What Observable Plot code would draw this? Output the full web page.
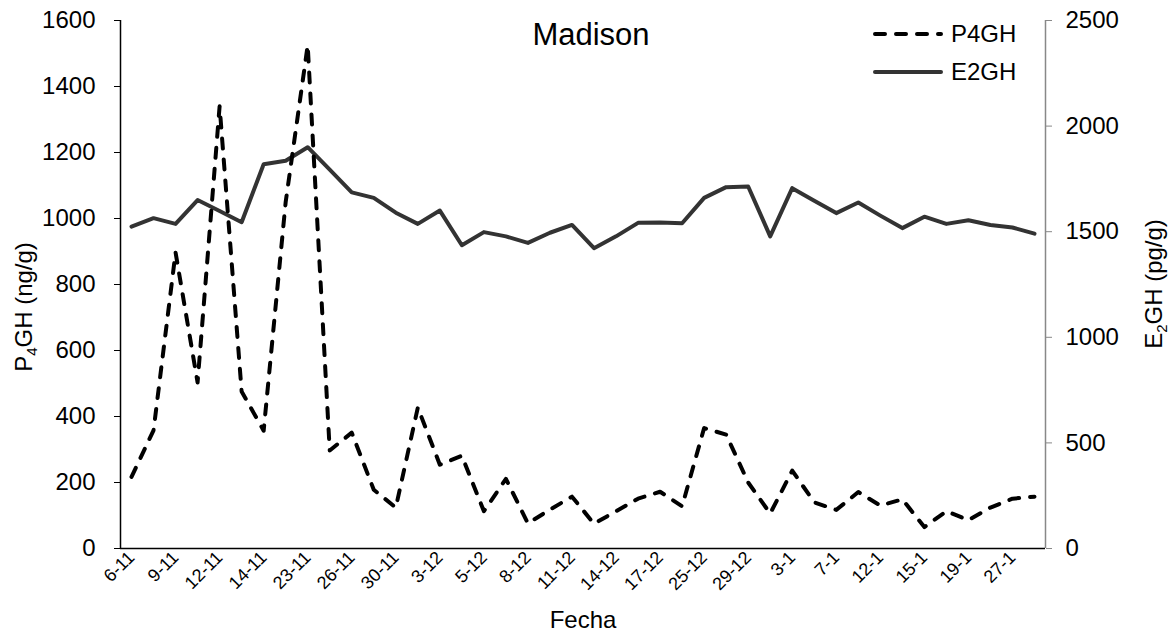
<!DOCTYPE html>
<html>
<head>
<meta charset="utf-8">
<script src="https://cdn.jsdelivr.net/npm/d3@7"></script>
<script src="https://cdn.jsdelivr.net/npm/@observablehq/plot@0.6"></script>
<style>
  html, body { margin: 0; padding: 0; background: #fff; }
  svg { font-family: "Liberation Sans", Arial, sans-serif; }
</style>
</head>
<body>
<div id="chart"></div>
<script>
// Tick labels (every other sampling date is labelled)
const dateLabels = ["6-11","9-11","12-11","14-11","23-11","26-11","30-11","3-12","5-12","8-12","11-12","14-12","17-12","25-12","29-12","3-1","7-1","12-1","15-1","19-1","27-1"];

// P4GH (ng/g), left axis
const p4gh = [217,358,897,503,1340,476,357,1050,1525,297,351,178,124,427,254,281,113,211,76,118,157,75,113,151,172,128,365,345,200,106,236,140,117,171,130,149,65,113,86,124,151,157];

// E2GH (pg/g), right axis
const e2gh = [1524,1564,1537,1650,1598,1545,1819,1836,1900,1794,1686,1660,1590,1537,1600,1436,1498,1478,1447,1495,1532,1422,1478,1542,1544,1540,1660,1711,1714,1478,1706,1647,1588,1638,1576,1517,1571,1537,1554,1532,1520,1491];

const leftTicks = [0,200,400,600,800,1000,1200,1400,1600];
const rightTicks = [0,500,1000,1500,2000,2500];
const seriesNames = ["P4GH", "E2GH"];

const leftMax = 1600, rightMax = 2500;
const k = leftMax / rightMax;

const n = p4gh.length;
const pData = p4gh.map((v, i) => ({i, v}));
const eData = e2gh.map((v, i) => ({i, v: v * k}));
const labelIdx = dateLabels.map((d, j) => j * 2);

const W = 1172, H = 634;
const font = "'Liberation Sans', Arial, sans-serif";

const chart = Plot.plot({
  width: W,
  height: H,
  marginLeft: 120,
  marginRight: 127,
  marginTop: 20,
  marginBottom: 86,
  style: {fontFamily: font, fontSize: "24px", background: "#fff", color: "#000"},
  x: {domain: [-0.5, n - 0.5], axis: null},
  y: {domain: [0, leftMax], axis: null},
  marks: [
    Plot.axisY({anchor: "left", ticks: leftTicks, tickSize: 6, tickPadding: 19, stroke: "#000", fill: "#000", fontSize: 24, label: null, tickFormat: d => String(d)}),
    Plot.axisY({anchor: "right", ticks: rightTicks.map(t => t * k), tickSize: 6, tickPadding: 14, stroke: "#888", fill: "#000", fontSize: 24, label: null, tickFormat: d => String(Math.round(d / k))}),
    Plot.axisX({ticks: labelIdx, tickFormat: i => dateLabels[i / 2], tickRotate: -45, tickSize: 0, tickPadding: 6, fontSize: 18, label: null}),
    Plot.ruleX([n - 0.5], {y1: 0, y2: leftMax, stroke: "#888", strokeWidth: 1.5}),
    Plot.ruleX([-0.5], {y1: 0, y2: leftMax, stroke: "#000", strokeWidth: 1.5}),
    Plot.ruleY([0], {stroke: "#000", strokeWidth: 1.5}),
    Plot.line(eData, {x: "i", y: "v", stroke: "#333", strokeWidth: 4, strokeLinejoin: "round"}),
    Plot.line(pData, {x: "i", y: "v", stroke: "#000", strokeWidth: 4, strokeDasharray: "10,11", strokeLinecap: "round"})
  ]
});

document.getElementById("chart").appendChild(chart);

const svg = d3.select(chart);

// Title
svg.append("text")
  .attr("x", 591).attr("y", 45)
  .attr("text-anchor", "middle")
  .attr("font-size", 31)
  .attr("fill", "#000")
  .text("Madison");

// Legend
const legendStyle = [
  {y: 34, dash: "10,11", color: "#000"},
  {y: 72, dash: null, color: "#333"}
];
legendStyle.forEach((l, j) => {
  const line = svg.append("line")
    .attr("x1", 875).attr("x2", 941)
    .attr("y1", l.y).attr("y2", l.y)
    .attr("stroke", l.color).attr("stroke-width", 4)
    .attr("stroke-linecap", "round");
  if (l.dash) line.attr("stroke-dasharray", l.dash);
  svg.append("text")
    .attr("x", 951).attr("y", l.y)
    .attr("dy", "0.35em")
    .attr("text-anchor", "start")
    .attr("font-size", 24)
    .attr("fill", "#000")
    .text(seriesNames[j]);
});

// Axis titles with subscripts
function subLabel(x, y, a, s, b) {
  const t = svg.append("text")
    .attr("transform", `translate(${x},${y}) rotate(-90)`)
    .attr("text-anchor", "middle")
    .attr("font-size", 24)
    .attr("fill", "#000");
  t.append("tspan").text(a);
  t.append("tspan").attr("font-size", 15).attr("dy", 5).text(s);
  t.append("tspan").attr("dy", -5).text(b);
}
subLabel(32, 307, "P", "4", "GH (ng/g)");
subLabel(1162, 284, "E", "2", "GH (pg/g)");

// X axis title
svg.append("text")
  .attr("x", 583).attr("y", 628)
  .attr("text-anchor", "middle")
  .attr("font-size", 24)
  .attr("fill", "#000")
  .text("Fecha");
</script>
</body>
</html>
